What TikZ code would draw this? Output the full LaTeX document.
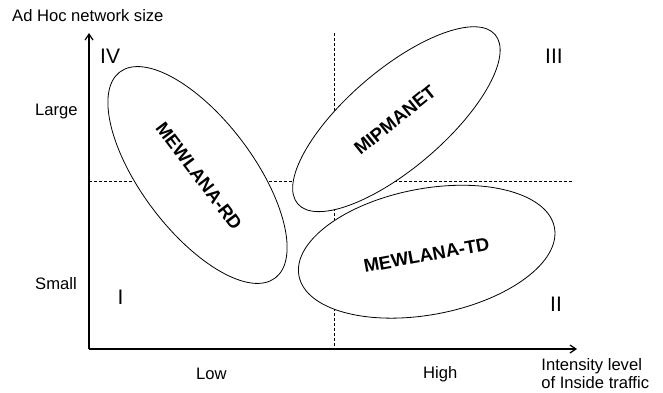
\documentclass[tikz,border=0pt]{standalone}
\usepackage{fontspec}
\setmainfont{Liberation Sans}
\usetikzlibrary{arrows.meta,shapes.geometric}
\tikzset{
  axisline/.style={line width=1.4pt,-{Straight Barb[length=6pt,width=8pt,line width=1.2pt]}},
  guide/.style={line width=0.9pt,dash pattern=on 3pt off 2pt},
  blob/.style={ellipse,draw,fill=white,line width=0.8pt,inner sep=0pt},
  lbl/.style={inner sep=0pt,anchor=base west,font=\fontsize{16.6}{18}\selectfont},
  quad/.style={inner sep=0pt,anchor=base west,font=\fontsize{21}{24}\selectfont},
  tag/.style={inner sep=0pt,font=\fontsize{18.5}{20}\selectfont\bfseries}
}
\begin{document}
\begin{tikzpicture}[x=1pt,y=1pt]
\useasboundingbox (0,0) rectangle (663,392);
% coordinates
\coordinate (origin) at (89,43);
\coordinate (ytop) at (89,359);
\coordinate (xend) at (577,43);
\coordinate (hs) at (89,210.5);
\coordinate (he) at (573,210.5);
\coordinate (vt) at (334,359);
\coordinate (vb) at (334,43);
% dashed guides
\draw[guide] (hs) -- (he);
\draw[guide] (vt) -- (vb);
% ellipses
\node[blob,minimum width=258pt,minimum height=112pt,rotate=-53] (rdE) at (197.5,217) {};
\node[blob,minimum width=260pt,minimum height=98pt,rotate=40.6] (mipE) at (396.4,272.8) {};
\node[blob,minimum width=260pt,minimum height=126pt,rotate=10.7] (tdE) at (426.7,140.3) {};
% axes
\draw[axisline] (origin) -- (ytop);
\draw[axisline] (origin) -- (xend);
% ellipse labels
\node[tag,rotate=-53] (rdT) at (199,216) {MEWLANA-RD};
\node[tag,rotate=39] (mipT) at (395,272) {MIPMANET};
\node[tag,rotate=10.5] (tdT) at (426.5,137) {MEWLANA-TD};
% axis labels
\node[lbl] (ylab) at (12,370.3) {Ad Hoc network size};
\node[lbl] (large) at (35,277) {Large};
\node[lbl] (small) at (35,102.7) {Small};
\node[lbl] (low) at (196,13) {Low};
\node[lbl] (high) at (423,13.7) {High};
\node[lbl] (xlab1) at (541.2,22) {Intensity level};
\node[lbl] (xlab2) at (541.2,3.7) {of Inside traffic};
% quadrant numerals
\node[quad] (q4) at (100,328.7) {IV};
\node[quad] (q3) at (545,328.7) {III};
\node[quad] (q1) at (117.5,87.7) {I};
\node[quad] (q2) at (550,80.3) {II};
\end{tikzpicture}
\end{document}
